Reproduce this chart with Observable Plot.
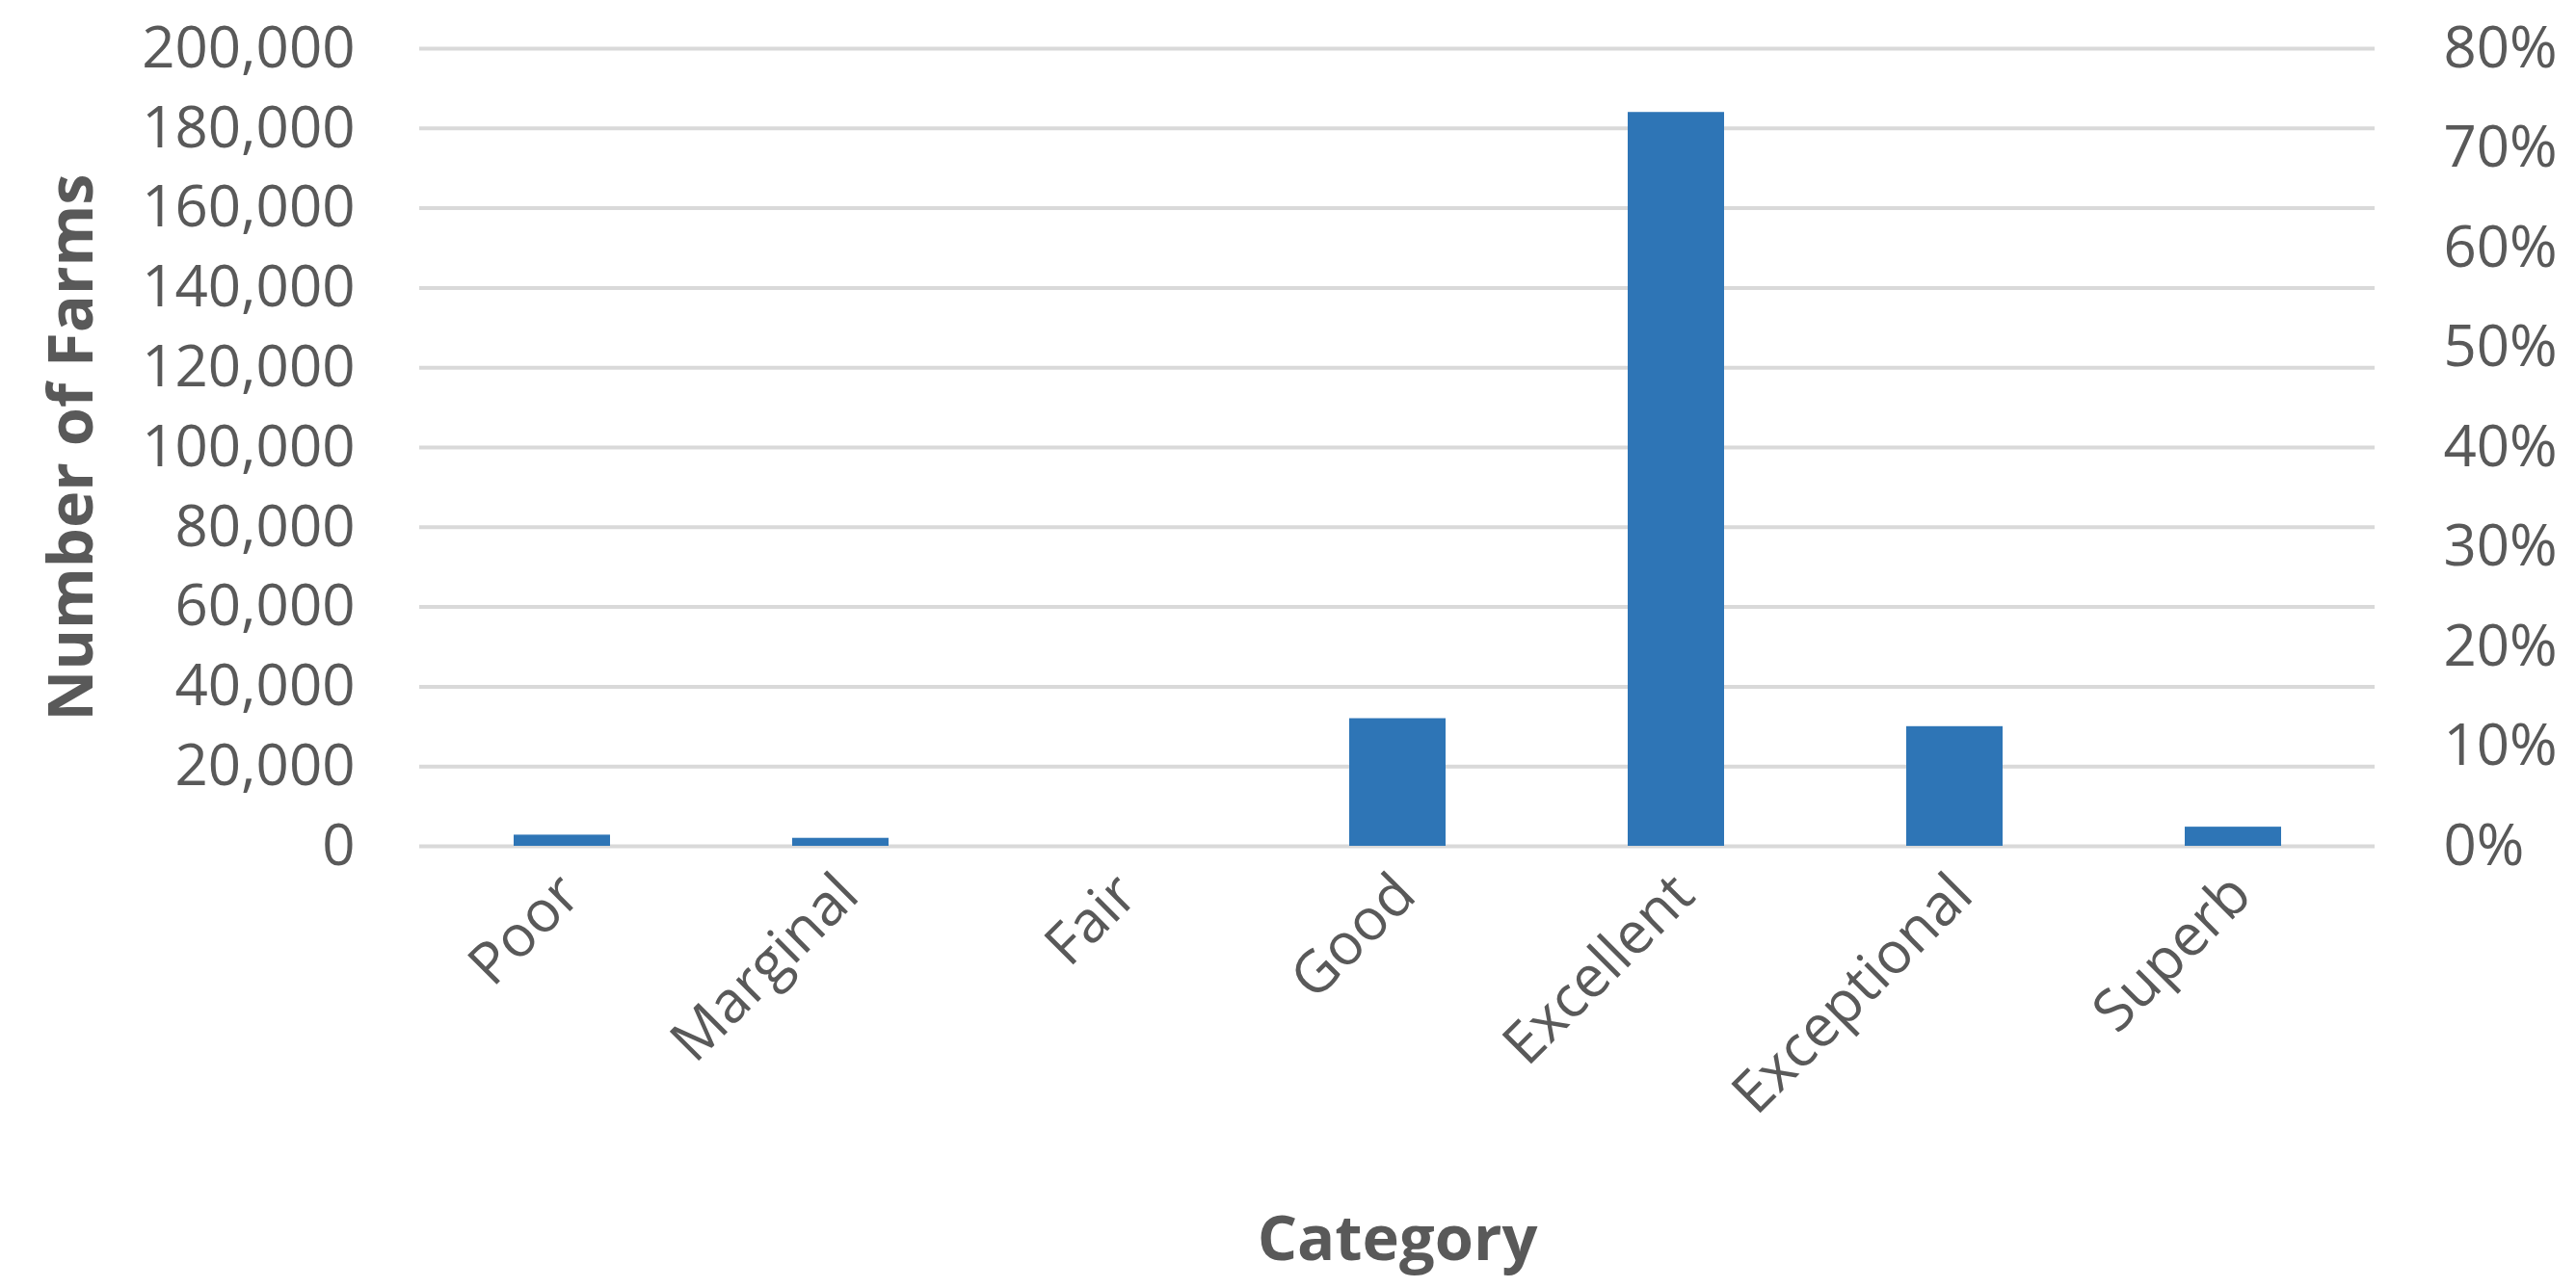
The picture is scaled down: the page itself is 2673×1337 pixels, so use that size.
<!DOCTYPE html>
<html><head><meta charset="utf-8">
<script src="https://cdn.jsdelivr.net/npm/d3@7"></script>
<script src="https://cdn.jsdelivr.net/npm/@observablehq/plot@0.6"></script>
<style>html,body{margin:0;padding:0;background:#fff} #chart svg{display:block}</style>
</head><body><div id="chart"></div>
<script>
const categories = ["Poor", "Marginal", "Fair", "Good", "Excellent", "Exceptional", "Superb"];
const farms = [2800, 2000, 0, 32000, 184000, 30000, 4800];
const leftTicks = [0, 20000, 40000, 60000, 80000, 100000, 120000, 140000, 160000, 180000, 200000];
const rightTicks = [0, 10, 20, 30, 40, 50, 60, 70, 80];
const leftMax = 200000;
const rightMax = 80;
const yTitle = "Number of Farms";
const xTitle = "Category";

const data = categories.map((c, i) => ({category: c, farms: farms[i]}));
const gray = "#595959";

const chart = Plot.plot({
  width: 2673,
  height: 1337,
  marginLeft: 435,
  marginRight: 209,
  marginTop: 50,
  marginBottom: 459,
  style: {fontFamily: "'Open Sans', sans-serif", fontSize: "60px", color: gray, background: "#fff"},
  x: {domain: categories, paddingInner: 0.655, paddingOuter: 0.3275, label: null},
  y: {domain: [0, leftMax], label: null},
  marks: [
    Plot.gridY(leftTicks, {stroke: "#d9d9d9", strokeOpacity: 1, strokeWidth: 4}),
    Plot.barY(data, {x: "category", y: "farms", fill: "#2e75b6"}),
    Plot.axisY(leftTicks, {anchor: "left", tickSize: 0, tickPadding: 67, tickFormat: d3.format(","), fill: gray, label: null}),
    Plot.axisY(rightTicks.map(p => p / rightMax * leftMax), {anchor: "right", tickSize: 0, tickPadding: 71, tickFormat: d => Math.round(d / leftMax * rightMax) + "%", fill: gray, label: null}),
    Plot.axisX({tickSize: 0, tickRotate: -45, tickPadding: 40, dx: 8, fill: gray, label: null}),
    Plot.text([yTitle], {frameAnchor: "left", textAnchor: "middle", dx: -360, rotate: -90, fontWeight: "bold", fontSize: 65, fill: gray}),
    Plot.text([xTitle], {frameAnchor: "bottom", textAnchor: "middle", dy: 429, fontWeight: "bold", fontSize: 65, fill: gray})
  ]
});
document.getElementById("chart").append(chart);
</script>
</body></html>
